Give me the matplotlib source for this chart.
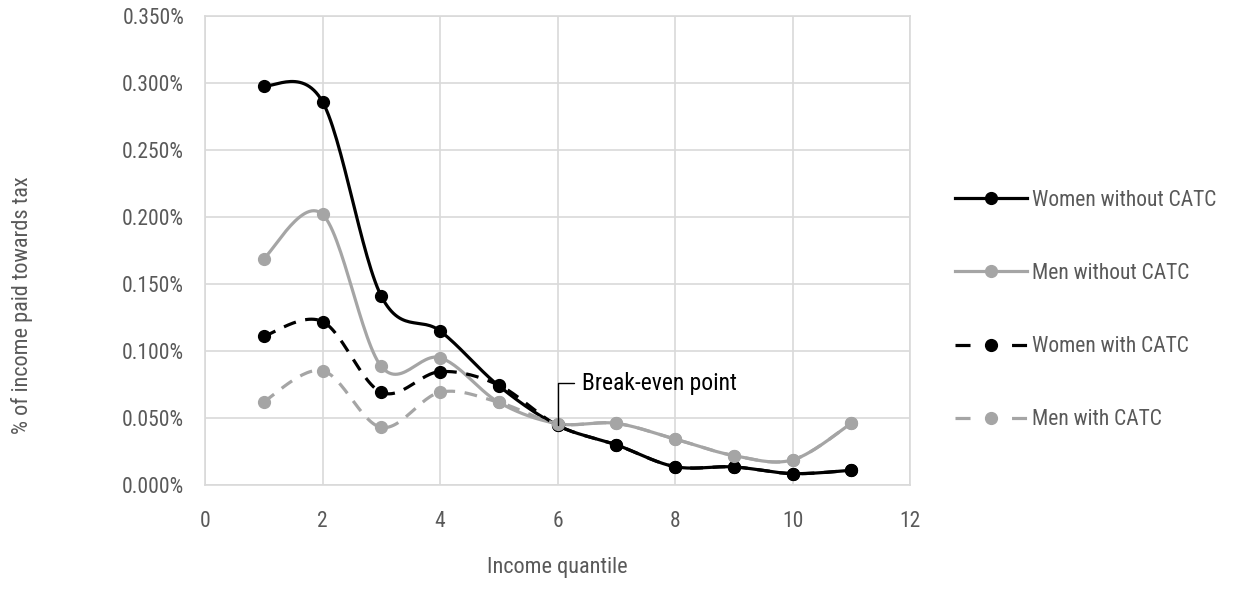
import matplotlib
matplotlib.use("Agg")
import matplotlib.pyplot as plt
import numpy as np

plt.rcParams['font.family'] = ['Roboto Condensed', 'DejaVu Sans']

# % of income paid towards tax, by income quantile
quantiles = [1, 2, 3, 4, 5, 6, 7, 8, 9, 10, 11]
women_without = [0.298, 0.286, 0.141, 0.115, 0.074, 0.0445, 0.030, 0.0137, 0.0135, 0.0085, 0.011]
men_without = [0.169, 0.202, 0.0885, 0.095, 0.0617, 0.0458, 0.046, 0.0343, 0.022, 0.0187, 0.046]
women_with = [0.111, 0.122, 0.0692, 0.0846, 0.0745, 0.0445, 0.030, 0.0137, 0.0135, 0.0085, 0.011]
men_with = [0.0622, 0.0853, 0.043, 0.0692, 0.0617, 0.0458, 0.046, 0.0343, 0.022, 0.0187, 0.046]

series_names = ["Women without CATC", "Men without CATC", "Women with CATC", "Men with CATC"]
yticks = [0.0, 0.05, 0.10, 0.15, 0.20, 0.25, 0.30, 0.35]
xticks = [0, 2, 4, 6, 8, 10, 12]
breakeven_q = 6

BLACK = "#000000"
GRAY = "#a5a5a5"
TXT = "#595959"
GRID = "#d9d9d9"
FS = 15.5


def smooth(xs, ys, n=30):
    # bezier spline through the points, same idea as a spreadsheet "smoothed line"
    p = np.column_stack([xs, ys]).astype(float)
    ext = np.vstack([p[0], p, p[-1]])
    out = []
    t = np.linspace(0, 1, n)[:, None]
    for i in range(len(p) - 1):
        p0, p1 = ext[i + 1], ext[i + 2]
        c1 = p0 + (ext[i + 2] - ext[i]) / 6
        c2 = p1 - (ext[i + 3] - ext[i + 1]) / 6
        seg = ((1 - t) ** 3) * p0 + 3 * ((1 - t) ** 2) * t * c1 + 3 * (1 - t) * t ** 2 * c2 + t ** 3 * p1
        out.append(seg if i == 0 else seg[1:])
    out = np.vstack(out)
    return out[:, 0], out[:, 1]


fig = plt.figure(figsize=(12.43, 6.04), dpi=100)
ax = fig.add_axes([205 / 1243, 1 - 485 / 604, 705 / 1243, 469 / 604])

styles = [
    (women_without, BLACK, '-'),
    (men_without, GRAY, '-'),
    (women_with, BLACK, '--'),
    (men_with, GRAY, '--'),
]
handles = []
for (vals, col, ls), name in zip(styles, series_names):
    sx, sy = smooth(quantiles, vals)
    if ls == '--':
        ax.plot(sx, sy, color=col, lw=2.3, dashes=(4, 3))
        h, = ax.plot([], [], marker='o', ms=8.5, color=col, lw=2.3, dashes=(4.7, 13))
    else:
        ax.plot(sx, sy, color=col, lw=2.3, solid_capstyle='round')
        h, = ax.plot([], [], marker='o', ms=8.5, color=col, lw=2.3)
    ax.plot(quantiles, vals, 'o', color=col, ms=8.5, zorder=3)
    handles.append(h)

ax.set_xlim(0, 12)
ax.set_ylim(0, 0.35)
ax.set_xticks(xticks)
ax.set_yticks(yticks)
ax.set_yticklabels([f"{v:.3f}%" for v in yticks])
ax.grid(True, color=GRID, lw=1.2)
ax.set_axisbelow(True)
for s in ax.spines.values():
    s.set_color(GRID)
    s.set_linewidth(1.2)
ax.tick_params(length=0, labelsize=FS, labelcolor=TXT)
ax.tick_params(axis='y', pad=15)
ax.tick_params(axis='x', pad=19)

# leader line to the break-even point
be_idx = quantiles.index(breakeven_q)
ax.annotate("Break-even point", xy=(breakeven_q, women_without[be_idx]),
            xytext=(17.5, 30.5), textcoords='offset points', ha='left', va='center',
            fontsize=17, color=BLACK,
            bbox=dict(boxstyle='square,pad=0.35', fc='none', ec='none'),
            arrowprops=dict(arrowstyle='-', color=BLACK, lw=1,
                            connectionstyle='angle,angleA=0,angleB=90,rad=0',
                            relpos=(0, 0.5), shrinkA=0, shrinkB=0))

fig.legend(handles, series_names, loc='center left',
           bbox_to_anchor=(955 / 1243, 1 - 310 / 604), frameon=False,
           fontsize=FS, labelcolor=TXT, handlelength=3.35, handletextpad=0.25,
           labelspacing=2.42, borderpad=0, borderaxespad=0)

fig.text(22 / 1243, 1 - 305 / 604, "% of income paid towards tax", rotation=90,
         ha='center', va='center', fontsize=16, color=TXT)
fig.text(557 / 1243, 1 - 567 / 604, "Income quantile", ha='center', va='center',
         fontsize=16, color=TXT)

fig.savefig("out.png", dpi=100)
